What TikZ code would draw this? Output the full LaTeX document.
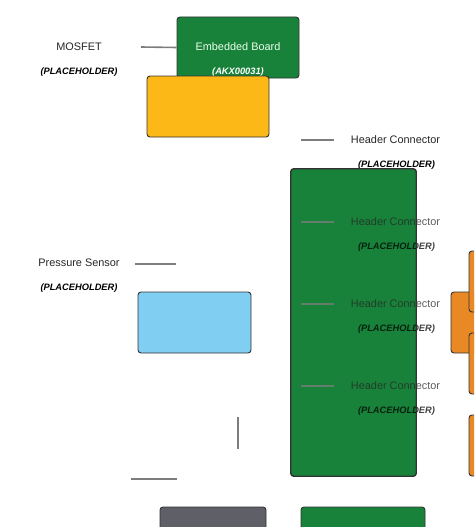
\documentclass[tikz,border=0pt]{standalone}
\usepackage{fontspec}
\setmainfont{Liberation Sans}
\usetikzlibrary{positioning}
\definecolor{boardgreen}{RGB}{24,130,58}
\definecolor{amberyellow}{RGB}{252,184,22}
\definecolor{skyblue}{RGB}{128,206,242}
\definecolor{pinorange}{RGB}{232,137,38}
\definecolor{slategray}{RGB}{94,95,103}
\definecolor{wiregray}{RGB}{125,125,125}

\tikzset{
part/.style={draw=black!80, line width=0.9pt, rounded corners=3pt, inner sep=0pt},
wire/.style={draw=wiregray, line width=1.6pt},
partname/.style={font=\fontsize{10.9}{12}\selectfont, text=black!85},
partcode/.style={font=\fontsize{9.3}{11}\selectfont\bfseries\itshape},
}

\begin{document}
\begin{tikzpicture}[x=1pt, y=-1pt]
\useasboundingbox (0,0) rectangle (474,527);
\clip (0,0) rectangle (474,527);

%
\node[partname](mosfet_label) at (79,47) {MOSFET};
\node[partcode](mosfet_code) at (79,72) {(PLACEHOLDER)};
\node[partname](sensor_label) at (79,263) {Pressure Sensor};
\node[partcode](sensor_code) at (79,288) {(PLACEHOLDER)};

%
\node[part, fill=boardgreen, minimum width=125pt, minimum height=307pt](header_board) at (353.5,322.5) {};

%
\foreach \i/\y/\op in {1/140/1, 2/222/0.75, 3/304/0.75, 4/386/0.75} {
    \begin{scope}[opacity=\op]
    \node[partname](header_label_\i) at (395.5,\y) {Header Connector};
    \node[partcode](header_code_\i) at (396.5,\y+25) {(PLACEHOLDER)};
    \coordinate (header_wire_a_\i) at (301,\y);
    \coordinate (header_wire_b_\i) at (334,\y);
    \draw[wire] (header_wire_a_\i) -- (header_wire_b_\i);
    \end{scope}
}
\draw[draw=black!80, line width=0.9pt, rounded corners=3pt] (header_board.north west) rectangle (header_board.south east);

%
\node[part, fill=boardgreen, minimum width=122pt, minimum height=61pt](board) at (238,47.5) {};
\node[text=green!8!white, font=\fontsize{10.9}{12}\selectfont](board_label) at (238,47) {Embedded Board};
\node[text=white, partcode](board_code) at (238,72) {(AKX00031)};
\node[part, fill=amberyellow, minimum width=122pt, minimum height=61pt](relay) at (208,106.5) {};

%
\coordinate (mosfet_wire) at (141,47);
\draw[wire] (mosfet_wire) -- (board.west);

%
\coordinate (sensor_wire_a) at (135,264);
\coordinate (sensor_wire_b) at (176,264);
\draw[wire] (sensor_wire_a) -- (sensor_wire_b);
\node[part, fill=skyblue, minimum width=113pt, minimum height=61pt](sensor) at (194.5,322.5) {};

%
\coordinate (stub_top) at (238,417);
\coordinate (stub_bottom) at (238,449);
\draw[wire] (stub_top) -- (stub_bottom);
\coordinate (stub_left) at (131,479);
\coordinate (stub_right) at (177,479);
\draw[wire] (stub_left) -- (stub_right);

%
\node[part, fill=slategray, minimum width=106pt, minimum height=60pt](gray_part) at (213,537) {};
\node[part, fill=boardgreen, minimum width=124pt, minimum height=60pt](lower_board) at (363,537) {};

%
\node[part, fill=pinorange, minimum width=60pt, minimum height=61pt](pin_b) at (481,322.5) {};
\node[part, fill=pinorange, minimum width=60pt, minimum height=61pt](pin_a) at (499,281.5) {};
\node[part, fill=pinorange, minimum width=60pt, minimum height=61pt](pin_c) at (499,363.5) {};
\node[part, fill=pinorange, minimum width=60pt, minimum height=61pt](pin_d) at (499,445.5) {};

\end{tikzpicture}
\end{document}
